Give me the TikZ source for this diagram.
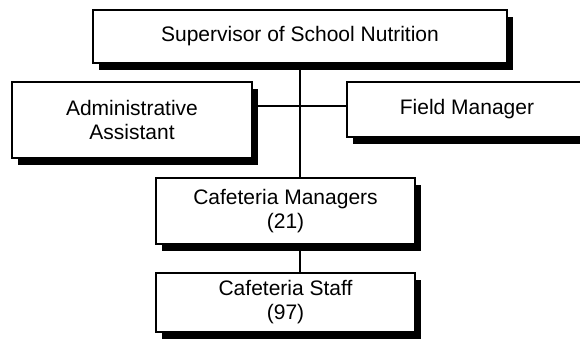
\documentclass[tikz,border=0pt]{standalone}
\usepackage{fontspec}
\setmainfont{Liberation Sans}
\usetikzlibrary{shadows}
\begin{document}
\begin{tikzpicture}[x=1pt,y=-1pt,
  orgbox/.style={draw=black, line width=1.2pt, fill=white, align=center,
    inner sep=0pt, font=\fontsize{21}{24}\selectfont,
    general shadow={fill=black, shadow xshift=5.5pt, shadow yshift=-6.5pt}},
  link/.style={draw=black, line width=1.5pt}]
  \clip (0,0) rectangle (580,343);
  \fill[white] (0,0) rectangle (580,343);

  % junction of the staff line to the side boxes
  \coordinate (hub) at (300,106);

  \node[orgbox, minimum width=414pt, minimum height=53pt] (sup) at (300,36.5) {Supervisor of School Nutrition};
  \node[orgbox, minimum width=240pt, minimum height=76pt] (admin) at (132,120) {Administrative\\Assistant};
  \node[orgbox, minimum width=240pt, minimum height=55pt] (field) at (467,109.5) {Field Manager};
  \node[orgbox, minimum width=259pt, minimum height=66pt] (mgr) at (285.5,211) {Cafeteria Managers\\(21)};
  \node[orgbox, minimum width=259pt, minimum height=59pt] (staff) at (285.5,302.5) {Cafeteria Staff\\(97)};

  % reporting lines
  \draw[link] (sup.south) -- (sup.south |- mgr.north);
  \draw[link] (admin.east |- hub) -- (field.west |- hub);
  \draw[link] (mgr.south -| sup.south) -- (staff.north -| sup.south);
\end{tikzpicture}
\end{document}
